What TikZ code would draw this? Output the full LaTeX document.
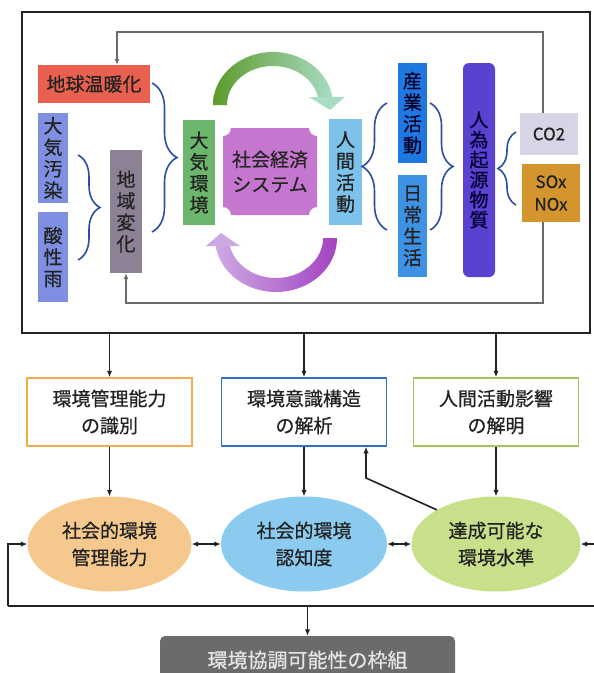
\documentclass[tikz,border=0pt]{standalone}
\usepackage{fontspec}
\setmainfont{Noto Sans CJK JP}[FakeBold=0.6]
\usetikzlibrary{arrows.meta,decorations.pathreplacing,calc,shapes.geometric}
\definecolor{cWarm}{HTML}{E9604E}
\definecolor{cPoll}{HTML}{7F90E3}
\definecolor{cRegion}{HTML}{8D8196}
\definecolor{cAir}{HTML}{6CB56C}
\definecolor{cSes}{HTML}{C576CF}
\definecolor{cHuman}{HTML}{7DC2EA}
\definecolor{cInd}{HTML}{1F78E0}
\definecolor{cDaily}{HTML}{3E92E6}
\definecolor{cAnthro}{HTML}{5B41D0}
\definecolor{cCO}{HTML}{D9D3E6}
\definecolor{cSOx}{HTML}{D4952E}
\definecolor{cBrace}{HTML}{2A4EA0}
\definecolor{cTopL}{HTML}{5E9A2A}
\definecolor{cTopR}{HTML}{A8DCC4}
\definecolor{cBotL}{HTML}{CDA9E3}
\definecolor{cBotR}{HTML}{A443C2}
\definecolor{cB1}{HTML}{F0AE4A}
\definecolor{cB2}{HTML}{2F6FC4}
\definecolor{cB3}{HTML}{A5C45B}
\definecolor{cE1}{HTML}{F5C98E}
\definecolor{cE2}{HTML}{8ACBEF}
\definecolor{cE3}{HTML}{C9E08A}
\definecolor{cBottom}{HTML}{6B6B6B}
\definecolor{cLine}{HTML}{222222}
\definecolor{cLoop}{HTML}{6A6A6A}
\definecolor{cTxt}{HTML}{222222}
\begin{document}
\begin{tikzpicture}[x=1pt,y=-1pt,
  ubox/.style={rectangle, inner sep=0pt, text=cTxt, align=center,
    font=\fontsize{19}{21.5}\selectfont},
  lbox/.style={rectangle, draw=#1, line width=1.5pt, fill=white, inner sep=0pt,
    minimum width=165, minimum height=68, align=center, text=cTxt,
    font=\fontsize{19}{27}\selectfont},
  ell/.style={ellipse, fill=#1, inner sep=0pt, minimum height=95, align=center,
    text=cTxt, font=\fontsize{19}{27}\selectfont},
  brc/.style={draw=cBrace, line width=1.6pt, decorate,
    decoration={brace, amplitude=#1}},
  arr/.style={draw=cLine, line width=1.6pt, -{Latex[length=6.5pt,width=5.5pt]}},
  dbl/.style={draw=cLine, line width=1.6pt,
    {Latex[length=6.5pt,width=5.5pt]}-{Latex[length=6.5pt,width=5.5pt]}},
  larr/.style={draw=cLoop, line width=1.3pt, -{Latex[length=6pt,width=5pt]}}]
\useasboundingbox (0,0) rectangle (594,673);
\clip (0,0) rectangle (594,673);

% outer frame
\node[draw=cLine, line width=1.5pt, minimum width=568, minimum height=321,
  inner sep=0pt] (frame) at (306,172.5) {};

% loop coordinates
\coordinate (rx) at (543,0);
\coordinate (lx) at (117,0);
\coordinate (ty) at (0,32);
\coordinate (by) at (0,303);

% upper boxes
\node[ubox, fill=cWarm, minimum width=112, minimum height=38] (wg) at (94,84) {地球温暖化};
\node[ubox, fill=cPoll, minimum width=30, minimum height=90] (ap) at (53,158) {大\\気\\汚\\染};
\node[ubox, fill=cPoll, minimum width=30, minimum height=90] (ar) at (53,257) {酸\\性\\雨};
\node[ubox, fill=cRegion, minimum width=32, minimum height=123] (rc) at (126,211.5) {地\\域\\変\\化};
\node[ubox, fill=cAir, minimum width=32, minimum height=105] (ae) at (199,172.5) {大\\気\\環\\境};
\fill[cSes] (231,128) -- (309,128) .. controls (309,132.4) and (312.6,136) .. (317,136)
  -- (317,207) .. controls (312.6,207) and (309,210.6) .. (309,215)
  -- (231,215) .. controls (231,210.6) and (227.4,207) .. (223,207)
  -- (223,136) .. controls (227.4,136) and (231,132.4) .. (231,128) -- cycle;
\node[ubox, minimum width=94, minimum height=87, font=\fontsize{19}{25}\selectfont,
  text=black!85] (ses) at (270,171.5) {社会経済\\システム};
\node[ubox, fill=cHuman, minimum width=33, minimum height=106] (ha) at (345.5,172) {人\\間\\活\\動};
\node[ubox, fill=cInd, minimum width=29, minimum height=100, text=black!85!blue] (ia) at (412.5,113) {産\\業\\活\\動};
\node[ubox, fill=cDaily, minimum width=29, minimum height=102] (dl) at (412.5,226) {日\\常\\生\\活};
\node[ubox, fill=cAnthro, minimum width=32, minimum height=214, rounded corners=6pt,
  font=\fontsize{19}{20}\selectfont, text=black!80!blue] (ao) at (479,170) {人\\為\\起\\源\\物\\質};

% feedback loop (behind CO2/SOx boxes)
\draw[larr] (rx |- 0,113) -- (rx |- ty) -- (lx |- ty) -- (wg.north -| lx);
\draw[larr] (rx |- 0,222) -- (rx |- by) -- (rc.south |- by) -- (rc.south);

\node[ubox, fill=cCO, minimum width=58, minimum height=42,
  font=\fontsize{17}{22}\selectfont] (co2) at (549,134) {CO2};
\node[ubox, fill=cSOx, minimum width=58, minimum height=58,
  font=\fontsize{17}{22.5}\selectfont] (sox) at (551,193) {SOx\\NOx};

% braces
\draw[brc=22pt] (78,155) -- (78,260);
\draw[brc=25pt] (152,83) -- (152,232);
\draw[brc=25pt] (387,230) -- (387,103);
\draw[brc=23pt] (430,103) -- (430,230);
\draw[brc=18pt] (516,205) -- (516,132);

% curved arrows
\shade[left color=cTopL, right color=cTopR]
  plot[domain=180:352, samples=60, variable=\t] ({273+60*cos(\t)},{105+53*sin(\t)})
  -- plot[domain=352:180, samples=60, variable=\t] ({273+46*cos(\t)},{105+39*sin(\t)})
  -- cycle;
\fill[cTopR] (309,97) -- (345,97) -- (330,110) -- cycle;
\shade[left color=cBotL, right color=cBotR]
  plot[domain=0:172, samples=60, variable=\t] ({276+61*cos(\t)},{238+54*sin(\t)})
  -- plot[domain=172:0, samples=60, variable=\t] ({276+47*cos(\t)},{238+40*sin(\t)})
  -- cycle;
\fill[cBotL] (206,246) -- (240,246) -- (221,233) -- cycle;

% lower boxes
\node[lbox=cB1] (b1) at (109.5,412) {環境管理能力\\の識別};
\node[lbox=cB2] (b2) at (304,412) {環境意識構造\\の解析};
\node[lbox=cB3] (b3) at (496,412) {人間活動影響\\の解明};

\draw[arr] (frame.south -| b1.north) -- (b1.north);
\draw[arr] (frame.south -| b2.north) -- (b2.north);
\draw[arr] (frame.south -| b3.north) -- (b3.north);

% ellipses
\node[ell=cE1, minimum width=164] (e1) at (109.5,544) {社会的環境\\管理能力};
\node[ell=cE2, minimum width=166] (e2) at (304,544) {社会的環境\\認知度};
\node[ell=cE3, minimum width=169] (e3) at (496,544) {達成可能な\\環境水準};

\draw[arr] (b1.south) -- (e1.north);
\draw[arr] (b2.south) -- (e2.north);
\draw[arr] (b3.south) -- (e3.north);
\draw[dbl] (e1.east) -- (e2.west);
\draw[dbl] (e2.east) -- (e3.west);

\coordinate (dg) at (366,478);
\draw[arr] (e3.150) -- (dg) -- (b2.south -| dg);

% bottom feedback
\coordinate (fl) at (8,606);
\coordinate (fr) at (598,606);
\draw[draw=cLine, line width=1.6pt] (fl) -- (fr);
\draw[arr] (fl) |- (e1.west);
\draw[arr] (fr) |- (e3.east);

\node[rectangle, fill=cBottom, rounded corners=5pt, minimum width=295, minimum height=48,
  inner sep=0pt, text=black!10, font=\fontsize{20}{24}\selectfont] (bb) at (307.5,660)
  {環境協調可能性の枠組};
\draw[arr] (bb.north |- fl) -- (bb.north);
\end{tikzpicture}
\end{document}
